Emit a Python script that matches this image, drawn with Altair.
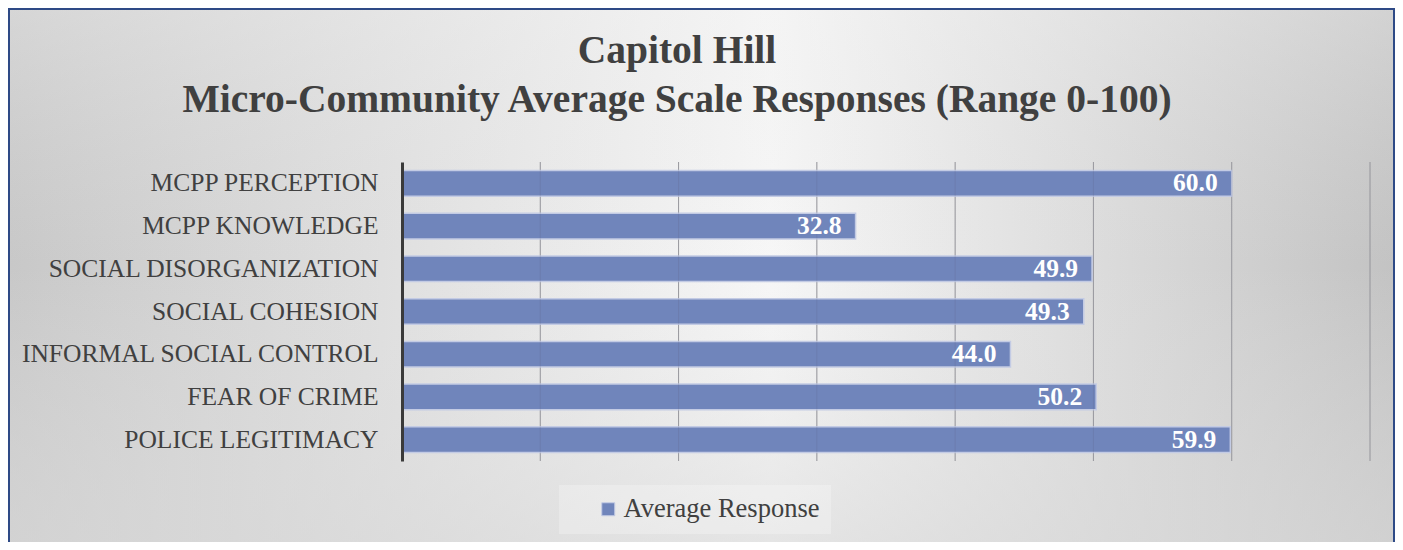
import altair as alt
import pandas as pd

categories = [
    "MCPP PERCEPTION",
    "MCPP KNOWLEDGE",
    "SOCIAL DISORGANIZATION",
    "SOCIAL COHESION",
    "INFORMAL SOCIAL CONTROL",
    "FEAR OF CRIME",
    "POLICE LEGITIMACY",
]
values = [60.0, 32.8, 49.9, 49.3, 44.0, 50.2, 59.9]
series_name = "Average Response"
grid_ticks = [10, 20, 30, 40, 50, 60, 70]
title_lines = ["Capitol Hill", "Micro-Community Average Scale Responses (Range 0-100)"]

FONT = "Liberation Serif"
TXT = "#404040"
BAR = "#7085bb"

df = pd.DataFrame({"category": categories, "value": values, "series": [series_name] * len(values)})
grid_df = pd.DataFrame({"tick": grid_ticks})
one = pd.DataFrame({"a": [0]})

W, H = 968, 299

xscale = alt.Scale(domain=[0, 70], nice=False, zero=True)
yscale = alt.Scale(domain=categories, paddingInner=0.4, paddingOuter=0.2)

bg_h = alt.Chart(one).mark_rect(
    fill=alt.Gradient(
        gradient="linear", x1=0, y1=0, x2=1, y2=0,
        stops=[
            alt.GradientStop(offset=0, color="#c8c8c8"),
            alt.GradientStop(offset=0.55, color="#f7f7f7"),
            alt.GradientStop(offset=1, color="#c3c3c3"),
        ],
    ),
).encode(x=alt.value(-393), x2=alt.value(992), y=alt.value(-153), y2=alt.value(420))

bg_v = alt.Chart(one).mark_rect(
    fill=alt.Gradient(
        gradient="linear", x1=0, y1=0, x2=0, y2=1,
        stops=[
            alt.GradientStop(offset=0, color="rgba(240,240,240,0.35)"),
            alt.GradientStop(offset=0.45, color="rgba(225,225,225,0)"),
            alt.GradientStop(offset=1, color="rgba(216,216,216,0.7)"),
        ],
    ),
    stroke="#2e4a86",
    strokeWidth=2,
).encode(x=alt.value(-393), x2=alt.value(992), y=alt.value(-153), y2=alt.value(420))

grid = alt.Chart(grid_df).mark_rule(color="#a6a6a6", strokeWidth=1).encode(
    x=alt.X("tick:Q", scale=xscale, axis=None)
)
grid_over = alt.Chart(grid_df).mark_rule(color="#5a5a7a", strokeWidth=1, opacity=0.18).encode(
    x=alt.X("tick:Q", scale=xscale, axis=None)
)

bars = alt.Chart(df).mark_bar(stroke="#c3cbe4", strokeWidth=1.5).encode(
    x=alt.X("value:Q", scale=xscale, axis=None),
    y=alt.Y(
        "category:N",
        scale=yscale,
        sort=categories,
        axis=alt.Axis(
            title=None,
            ticks=False,
            grid=False,
            domainColor="#3a3a3a",
            domainWidth=3,
            labelFont=FONT,
            labelFontSize=25.5,
            labelColor=TXT,
            labelPadding=24,
            labelLimit=500,
            zindex=1,
        ),
    ),
    color=alt.Color(
        "series:N",
        scale=alt.Scale(range=[BAR]),
        legend=alt.Legend(
            title=None,
            orient="none",
            legendX=157,
            legendY=323,
            symbolType="square",
            symbolSize=169,
            symbolOffset=25,
            symbolStrokeColor="#c3cbe4",
            symbolStrokeWidth=1,
            labelFont=FONT,
            labelFontSize=26.5,
            labelColor=TXT,
            labelOffset=2,
            labelLimit=400,
            padding=11,
            fillColor="rgba(255,255,255,0.25)",
        ),
    ),
)

labels = alt.Chart(df).mark_text(
    align="right", baseline="middle", dx=-14, font=FONT, fontSize=25.5, fontWeight="bold", color="white"
).encode(
    x=alt.X("value:Q", scale=xscale, axis=None),
    y=alt.Y("category:N", scale=yscale, sort=categories),
    text=alt.Text("value:Q", format=".1f"),
)

title1 = alt.Chart(one).mark_text(
    align="center", baseline="alphabetic", font=FONT, fontSize=39.5, fontWeight="bold", color=TXT,
    text=title_lines[0],
).encode(x=alt.value(275), y=alt.value(-99))

title2 = alt.Chart(one).mark_text(
    align="center", baseline="alphabetic", font=FONT, fontSize=39.5, fontWeight="bold", color=TXT,
    text=title_lines[1],
).encode(x=alt.value(275), y=alt.value(-50))

chart = alt.layer(bg_h, bg_v, grid, bars, grid_over, labels, title1, title2).properties(
    width=W,
    height=H,
    autosize=alt.AutoSizeParams(type="none"),
    padding={"left": 394, "top": 154, "right": 25, "bottom": 81},
).configure_view(strokeWidth=0)

chart.save("out.html", embed_options={"renderer": "svg", "actions": False})
